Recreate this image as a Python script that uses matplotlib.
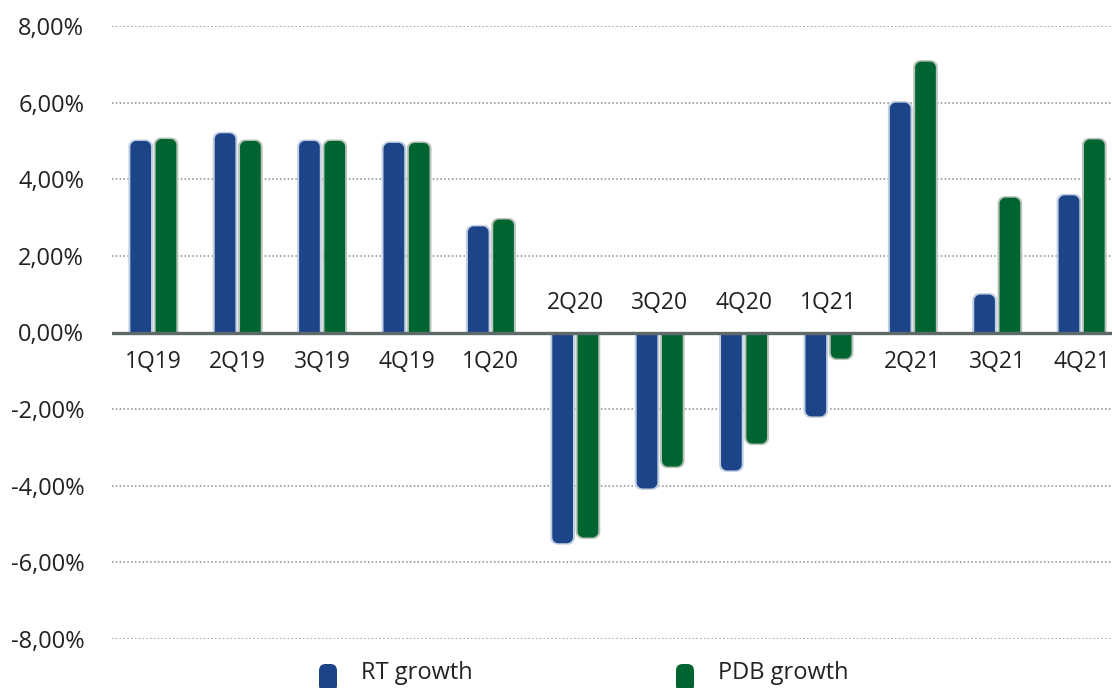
import matplotlib
matplotlib.use("Agg")
import matplotlib.pyplot as plt
from matplotlib.patches import Polygon, FancyBboxPatch
import numpy as np

plt.rcParams['font.family'] = ['Open Sans', 'DejaVu Sans']

quarters = ['1Q19', '2Q19', '3Q19', '4Q19', '1Q20', '2Q20', '3Q20', '4Q20',
            '1Q21', '2Q21', '3Q21', '4Q21']
rt_growth = [5.00, 5.20, 5.00, 4.95, 2.77, -5.50, -4.07, -3.60, -2.19, 6.00, 0.99, 3.58]
pdb_growth = [5.05, 5.00, 5.00, 4.95, 2.95, -5.35, -3.50, -2.90, -0.68, 7.07, 3.52, 5.04]
yticks = [-8, -6, -4, -2, 0, 2, 4, 6, 8]

blue = '#1c4489'
green = '#006430'
blue_halo = '#c3cfe2'
green_halo = '#b9c4bb'

fig = plt.figure(figsize=(11.12, 6.88), dpi=100)
ax = fig.add_axes([112 / 1112, 49 / 688, 1000 / 1112, 613 / 688])

x = np.arange(len(quarters))
w = 0.245
off = 0.15

# px -> data units
xu = 1 / 84.4
yu = 1 / 38.3


def cap_shape(x0, wd, h, r_px=6):
    # bar outline with rounded corners only at the far end
    rx = r_px * xu
    ry = r_px * yu
    s = 1 if h >= 0 else -1
    ry = min(ry, abs(h)) * s
    t = np.linspace(0, np.pi / 2, 12)
    left = [(x0 + rx - rx * np.cos(a), h - ry + ry * np.sin(a)) for a in t]
    right = [(x0 + wd - rx + rx * np.sin(a), h - ry + ry * np.cos(a)) for a in t]
    return [(x0, 0)] + left + right + [(x0 + wd, 0)]


def rounded(ax, bars, color, halo):
    for b in bars:
        x0, wd, h = b.get_x(), b.get_width(), b.get_height()
        b.remove()
        d = 2.0 * xu
        ax.add_patch(Polygon(cap_shape(x0 - d, wd + 2 * d, h + np.sign(h) * 1.5 * yu, 7),
                             closed=True, fc=halo, ec='none', zorder=2))
        ax.add_patch(Polygon(cap_shape(x0, wd, h), closed=True, fc=color, ec='none', zorder=3))


b1 = ax.bar(x - off, rt_growth, w)
b2 = ax.bar(x + off, pdb_growth, w)
rounded(ax, b1, blue, blue_halo)
rounded(ax, b2, green, green_halo)

for yv in yticks:
    if yv != 0:
        ax.axhline(yv, color='#8a8a8a', lw=1.1, ls=(0, (1, 1.5)), zorder=1)
ax.axhline(0, color='#5e6a6a', lw=2.4, zorder=4)

for i, q in enumerate(quarters):
    neg = rt_growth[i] < 0
    ax.text(x[i], 0.78 if neg else -0.78, q, ha='center', va='center',
            fontsize=16.5, color='#222222', zorder=5)

ax.set_xlim(-0.49, 11.36)
ax.set_ylim(-8, 8)
ax.set_yticks(yticks)
ax.set_yticklabels([f"{v:.2f}%".replace('.', ',') for v in yticks], fontsize=17, color='#222222')
ax.set_xticks([])
ax.tick_params(axis='y', length=0, pad=20)
for s in ax.spines.values():
    s.set_visible(False)

# legend
fig_w, fig_h = 1112, 688
for lx, label, c in ((319, 'RT growth', blue), (676, 'PDB growth', green)):
    fig.patches.append(FancyBboxPatch((lx / fig_w, 1 - 692 / fig_h), 18 / fig_w, 28 / fig_h,
                                      boxstyle="round,pad=0,rounding_size=0.006",
                                      mutation_aspect=fig_w / fig_h,
                                      transform=fig.transFigure, fc=c, ec='none'))
    fig.text((lx + 42) / fig_w, 1 - 673 / fig_h, label, fontsize=17, color='#222222',
             ha='left', va='center')

fig.savefig('out.png', dpi=100)
